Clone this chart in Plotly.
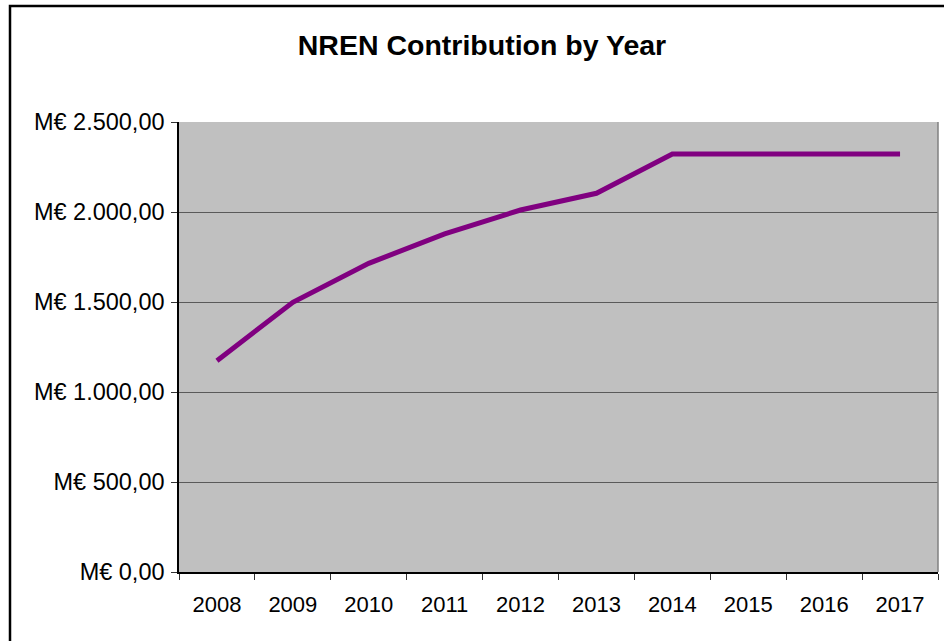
import plotly.graph_objects as go

years = ["2008", "2009", "2010", "2011", "2012", "2013", "2014", "2015", "2016", "2017"]
contribution = [1174, 1498, 1715, 1878, 2011, 2104, 2322, 2322, 2322, 2322]
y_tick_vals = [0, 500, 1000, 1500, 2000, 2500]
y_tick_text = ["M€ 0,00", "M€ 500,00", "M€ 1.000,00", "M€ 1.500,00", "M€ 2.000,00", "M€ 2.500,00"]
title_text = "NREN Contribution by Year"

fig = go.Figure()
fig.add_trace(go.Scatter(
    x=years, y=contribution, mode="lines",
    line=dict(color="#800080", width=5),
    showlegend=False, hoverinfo="skip",
))

L, R, T, B = 179, 6, 122, 69
W, H = 944, 641
pw, ph = W - L - R, H - T - B

def px_x(px):
    return (px - L) / pw

def px_y(py):
    return (H - B - py) / ph

fig.update_layout(
    width=W, height=H,
    margin=dict(l=L, r=R, t=T, b=B, pad=0),
    paper_bgcolor="white",
    plot_bgcolor="#C0C0C0",
    font=dict(family="Liberation Sans, Arial, sans-serif", size=22, color="black"),
    title=dict(text="<b>" + title_text + "</b>", x=482 / W, xanchor="center",
               y=1 - 45 / H, yanchor="middle",
               font=dict(size=28.5, family="Liberation Sans, Arial, sans-serif", color="black")),
    xaxis=dict(
        type="category", tickson="boundaries", ticks="outside", ticklen=6,
        tickcolor="#333333", tickwidth=1,
        showline=True, linecolor="black", linewidth=1.5,
        showgrid=False, zeroline=False, range=[-0.5, 9.5],
        tickfont=dict(size=22), ticklabelstandoff=12,
    ),
    yaxis=dict(
        range=[0, 2500], tickvals=y_tick_vals, ticktext=y_tick_text,
        ticks="outside", ticklen=6, tickcolor="#333333", tickwidth=1,
        showline=True, linecolor="black", linewidth=1.5,
        showgrid=True, gridcolor="#5a5a5a", gridwidth=1,
        zeroline=False, tickfont=dict(size=23.5), ticklabelstandoff=2,
    ),
    shapes=[
        dict(type="rect", xref="paper", yref="paper",
             x0=px_x(10), x1=px_x(960), y0=px_y(660), y1=px_y(6),
             line=dict(color="black", width=2.5), fillcolor="rgba(0,0,0,0)", layer="above"),
        dict(type="line", xref="paper", yref="paper",
             x0=1, x1=1, y0=0, y1=1, line=dict(color="#808080", width=1.5)),
    ],
)

fig.write_html("out.html", post_script="document.body.style.margin='0';",
               config={"displayModeBar": False})
